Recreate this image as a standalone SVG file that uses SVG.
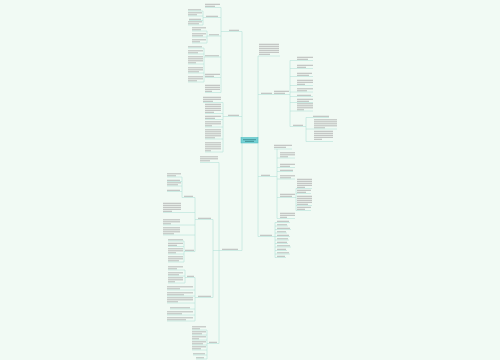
<svg xmlns="http://www.w3.org/2000/svg" width="500" height="360" viewBox="0 0 500 360">
<style>
.t{stroke:#ababab;stroke-width:.8;fill:none}
.u,.e{stroke:#aee0d6;stroke-width:.55;fill:none}
</style>
<rect width="500" height="360" fill="#f1faf4"/>
<g id="edges">
<path class="e" d="M242 31.5V250.5M258 56V236.5"/>
<path class="e" d="M221 7.5V92.5M221 31.5H229M203 11V25M203 17.5H206M207 31V43M207 36H209M204 48V82M204 57H205"/>
<path class="e" d="M223 102.5V152M223 116.5H228"/>
<path class="e" d="M219 162.5V343.5M213 219.5V297.5M207 330V359M195 197.5V251.5M182 177V197.5M184 241V262M195 277.5V321M185 270V283"/>
<path class="e" d="M290 60.5V126.5M306 117.5V141.5M277 149V218.5M296 188.5V210.5M275 222.5V257.5"/>
</g>
<g id="center"><rect x="241" y="137.5" width="17" height="5.5" fill="#76d1d5" stroke="#45b9bd" stroke-width=".5"/><path d="M243 139.7H256M245 141.4H254" stroke="#2f7c80" stroke-width=".7"/></g>
<g id="L1"><path class="t" d="M229 30.3H239"/><path class="u" d="M229 31.5H242"/></g>
<g id="L1a"><path class="t" d="M205 4.3H220M205 6.3H215"/><path class="u" d="M205 7.5H221"/></g>
<g id="L1b"><path class="t" d="M206 16.3H218"/><path class="u" d="M206 17.5H221"/></g>
<g id="L1b1"><path class="t" d="M188 9.8H201"/><path class="u" d="M188 11H203"/></g>
<g id="L1b2"><path class="t" d="M188 12.8H202M188 14.8H197"/><path class="u" d="M188 16H203"/></g>
<g id="L1b3"><path class="t" d="M189 19.3H201"/><path class="u" d="M189 20.5H203"/></g>
<g id="L1b4"><path class="t" d="M188 21.8H202M188 23.8H199"/><path class="u" d="M188 25H203"/></g>
<g id="L1c"><path class="t" d="M209 34.8H219"/><path class="u" d="M209 36H221"/></g>
<g id="L1c1"><path class="t" d="M192 27.8H206M192 29.8H201"/><path class="u" d="M192 31H207"/></g>
<g id="L1c2"><path class="t" d="M192 33.8H206M192 35.8H203"/><path class="u" d="M192 37H207"/></g>
<g id="L1c3"><path class="t" d="M192 39.8H206M192 41.8H200"/><path class="u" d="M192 43H207"/></g>
<g id="L1d"><path class="t" d="M205 55.8H219"/><path class="u" d="M205 57H221"/></g>
<g id="L1d1"><path class="t" d="M188 46.8H202"/><path class="u" d="M188 48H204"/></g>
<g id="L1d2"><path class="t" d="M188 50.8H203M188 52.8H198"/><path class="u" d="M188 54H204"/></g>
<g id="L1d3"><path class="t" d="M188 56.8H203M188 58.8H203M188 60.8H203M188 62.8H196"/><path class="u" d="M188 64H204"/></g>
<g id="L1d4"><path class="t" d="M188 67.8H203M188 69.8H203M188 71.8H199"/><path class="u" d="M188 73H204"/></g>
<g id="L1d5"><path class="t" d="M188 76.8H203M188 78.8H203M188 80.8H197"/><path class="u" d="M188 82H204"/></g>
<g id="L1e"><path class="t" d="M205 74.3H220M205 76.3H214"/><path class="u" d="M205 77.5H221"/></g>
<g id="L1f"><path class="t" d="M205 85.3H220M205 87.3H220M205 89.3H220M205 91.3H212"/><path class="u" d="M205 92.5H221"/></g>
<g id="L2"><path class="t" d="M228 115.3H239"/><path class="u" d="M228 116.5H242"/></g>
<g id="L2a"><path class="t" d="M203 97.3H221M203 99.3H221M203 101.3H213"/><path class="u" d="M203 102.5H223"/></g>
<g id="L2b"><path class="t" d="M205 104.3H221M205 106.3H221M205 108.3H221M205 110.3H221M205 112.3H214"/><path class="u" d="M205 113.5H223"/></g>
<g id="L2c"><path class="t" d="M205 116.3H221M205 118.3H215"/><path class="u" d="M205 119.5H223"/></g>
<g id="L2d"><path class="t" d="M205 121.8H221M205 123.8H221M205 125.8H212"/><path class="u" d="M205 127H223"/></g>
<g id="L2e"><path class="t" d="M205 129.8H221M205 131.8H221M205 133.8H221M205 135.8H221M205 137.8H215"/><path class="u" d="M205 139H223"/></g>
<g id="L2f"><path class="t" d="M205 142.8H221M205 144.8H221M205 146.8H221M205 148.8H221M205 150.8H211"/><path class="u" d="M205 152H223"/></g>
<g id="L3"><path class="t" d="M222 249.3H238"/><path class="u" d="M213 250.5H242"/></g>
<g id="L3a"><path class="t" d="M200 156.8H218M200 158.8H218M200 160.8H210"/><path class="u" d="M200 162.5H219"/></g>
<g id="L3s1"><path class="t" d="M198 218.3H211"/><path class="u" d="M195 219.5H213"/></g>
<g id="L3s1a"><path class="t" d="M184 196.3H193"/><path class="u" d="M182 197.5H195"/></g>
<g id="L3s1a1"><path class="t" d="M167 173.8H181M167 175.8H176"/><path class="u" d="M167 177H182"/></g>
<g id="L3s1a2"><path class="t" d="M167 180.3H180"/><path class="u" d="M167 181.5H182"/></g>
<g id="L3s1a3"><path class="t" d="M167 182.8H181M167 184.8H178"/><path class="u" d="M167 186H182"/></g>
<g id="L3s1a4"><path class="t" d="M167 190.3H180"/><path class="u" d="M167 191.5H182"/></g>
<g id="L3s1b"><path class="t" d="M163 203.3H181M163 205.3H181M163 207.3H181M163 209.3H181M163 211.3H172"/><path class="u" d="M163 212.5H195"/></g>
<g id="L3s1c"><path class="t" d="M163 219.8H180M163 221.8H180M163 223.8H171"/><path class="u" d="M163 225H195"/></g>
<g id="L3s1d"><path class="t" d="M163 227.8H180M163 229.8H180M163 231.8H180M163 233.8H174"/><path class="u" d="M163 235H195"/></g>
<g id="L3s1e"><path class="t" d="M185 250.3H194"/><path class="u" d="M184 251.5H195"/></g>
<g id="L3s1e1"><path class="t" d="M168 239.8H183"/><path class="u" d="M168 241H184"/></g>
<g id="L3s1e2"><path class="t" d="M168 243.3H183M168 245.3H177"/><path class="u" d="M168 246.5H184"/></g>
<g id="L3s1e3"><path class="t" d="M168 248.8H183M168 250.8H183M168 252.8H176"/><path class="u" d="M168 254H184"/></g>
<g id="L3s1e4"><path class="t" d="M168 256.8H183M168 258.8H183M168 260.8H179"/><path class="u" d="M168 262H184"/></g>
<g id="L3s2"><path class="t" d="M198 296.3H211"/><path class="u" d="M195 297.5H213"/></g>
<g id="L3s2a"><path class="t" d="M187 276.3H194"/><path class="u" d="M185 277.5H195"/></g>
<g id="L3s2a1"><path class="t" d="M168 266.8H183M168 268.8H177"/><path class="u" d="M168 270H185"/></g>
<g id="L3s2a2"><path class="t" d="M168 272.8H183M168 274.8H179"/><path class="u" d="M168 276H185"/></g>
<g id="L3s2a3"><path class="t" d="M168 277.8H183M168 279.8H183M168 281.8H175"/><path class="u" d="M168 283H185"/></g>
<g id="L3s2b"><path class="t" d="M167 286.8H193M167 288.8H180"/><path class="u" d="M167 290H195"/></g>
<g id="L3s2c"><path class="t" d="M167 292.8H193M167 294.8H184"/><path class="u" d="M167 296H195"/></g>
<g id="L3s2d"><path class="t" d="M167 297.8H193M167 299.8H193M167 301.8H178"/><path class="u" d="M167 303H195"/></g>
<g id="L3s2e"><path class="t" d="M170 307.8H190"/><path class="u" d="M170 309H195"/></g>
<g id="L3s2f"><path class="t" d="M167 311.8H193M167 313.8H182"/><path class="u" d="M167 315H195"/></g>
<g id="L3s2g"><path class="t" d="M167 317.8H193M167 319.8H186"/><path class="u" d="M167 321H195"/></g>
<g id="L3b"><path class="t" d="M209 342.3H217"/><path class="u" d="M207 343.5H219"/></g>
<g id="L3b1"><path class="t" d="M192 326.8H206M192 328.8H200"/><path class="u" d="M192 330H207"/></g>
<g id="L3b2"><path class="t" d="M192 331.8H206M192 333.8H202"/><path class="u" d="M192 335H207"/></g>
<g id="L3b3"><path class="t" d="M192 336.8H206M192 338.8H199"/><path class="u" d="M192 340H207"/></g>
<g id="L3b4"><path class="t" d="M192 341.8H206M192 343.8H203"/><path class="u" d="M192 345H207"/></g>
<g id="L3b5"><path class="t" d="M192 346.8H206M192 348.8H201"/><path class="u" d="M192 350H207"/></g>
<g id="L3b6"><path class="t" d="M193 353.8H205"/><path class="u" d="M193 355H207"/></g>
<g id="L3b7"><path class="t" d="M196 357.8H204"/><path class="u" d="M196 359H207"/></g>
<g id="R1"><path class="t" d="M259 44.3H279M259 46.3H279M259 48.3H279M259 50.3H279M259 52.3H279M259 54.3H270"/><path class="u" d="M258 56H280"/></g>
<g id="R2"><path class="t" d="M261 93.3H272"/><path class="u" d="M258 94.5H273"/></g>
<g id="R2n"><path class="t" d="M274 91.3H289M274 93.3H285"/><path class="u" d="M273 94.5H290"/></g>
<g id="R2a"><path class="t" d="M297 57.3H313M297 59.3H308"/><path class="u" d="M290 60.5H313"/></g>
<g id="R2b"><path class="t" d="M297 65.3H313M297 67.3H306"/><path class="u" d="M290 68.5H313"/></g>
<g id="R2c"><path class="t" d="M297 73.3H312M297 75.3H309"/><path class="u" d="M290 76.5H313"/></g>
<g id="R2d"><path class="t" d="M297 80.3H313M297 82.3H313M297 84.3H305"/><path class="u" d="M290 85.5H313"/></g>
<g id="R2e"><path class="t" d="M297 88.8H313M297 90.8H307"/><path class="u" d="M290 92H313"/></g>
<g id="R2f"><path class="t" d="M297 95.3H311"/><path class="u" d="M290 96.5H313"/></g>
<g id="R2g"><path class="t" d="M297 99.3H313M297 101.3H309"/><path class="u" d="M290 102.5H313"/></g>
<g id="R2h"><path class="t" d="M297 103.8H313M297 105.8H313M297 107.8H313M297 109.8H304"/><path class="u" d="M290 111H313"/></g>
<g id="R2s"><path class="t" d="M293 125.3H303"/><path class="u" d="M290 126.5H306"/></g>
<g id="R2s1"><path class="t" d="M313 116.3H329"/><path class="u" d="M306 117.5H329"/></g>
<g id="R2s2"><path class="t" d="M314 119.8H337M314 121.8H337M314 123.8H337M314 125.8H337M314 127.8H325"/><path class="u" d="M306 129H337"/></g>
<g id="R2s3"><path class="t" d="M314 131.3H333M314 133.3H333M314 135.3H333M314 137.3H333M314 139.3H322"/><path class="u" d="M306 141.5H333"/></g>
<g id="R3"><path class="t" d="M261 175.3H270"/><path class="u" d="M258 176.5H277"/></g>
<g id="R3t"><path class="t" d="M274 145.3H292M274 147.3H286"/><path class="u" d="M274 149H292"/></g>
<g id="R3a"><path class="t" d="M280 152.8H295M280 154.8H295M280 156.8H288"/><path class="u" d="M277 158H295"/></g>
<g id="R3b"><path class="t" d="M280 164.3H295M280 166.3H290"/><path class="u" d="M277 167.5H295"/></g>
<g id="R3c"><path class="t" d="M280 170.3H293"/><path class="u" d="M277 171.5H293"/></g>
<g id="R3d"><path class="t" d="M280 175.8H295M280 177.8H291"/><path class="u" d="M277 179H295"/></g>
<g id="R3s"><path class="t" d="M280 194.3H295M280 196.3H292"/><path class="u" d="M277 197.5H296"/></g>
<g id="R3s1"><path class="t" d="M297 179.3H312M297 181.3H312M297 183.3H312M297 185.3H312M297 187.3H305"/><path class="u" d="M296 188.5H312"/></g>
<g id="R3s2"><path class="t" d="M297 190.3H311M297 192.3H306"/><path class="u" d="M296 193.5H311"/></g>
<g id="R3s3"><path class="t" d="M297 196.3H312M297 198.3H312M297 200.3H312M297 202.3H312M297 204.3H308"/><path class="u" d="M296 205.5H312"/></g>
<g id="R3s4"><path class="t" d="M297 207.3H311M297 209.3H305"/><path class="u" d="M296 210.5H311"/></g>
<g id="R3e"><path class="t" d="M280 213.3H295M280 215.3H295M280 217.3H287"/><path class="u" d="M277 218.5H295"/></g>
<g id="R4"><path class="t" d="M260 235.3H272"/><path class="u" d="M258 236.5H275"/></g>
<g id="R4a"><path class="t" d="M277 221.3H289M277 224.8H287M277 228.3H290M277 231.8H286M277 235.3H289M277 238.8H288M277 242.3H287M277 245.8H290M277 249.3H286M277 252.8H289M277 256.3H285"/><path class="u" d="M275 222.5H290M275 226H288M275 229.5H291M275 233H287M275 236.5H290M275 240H289M275 243.5H288M275 247H291M275 250.5H287M275 254H290M275 257.5H286"/></g>
</svg>
